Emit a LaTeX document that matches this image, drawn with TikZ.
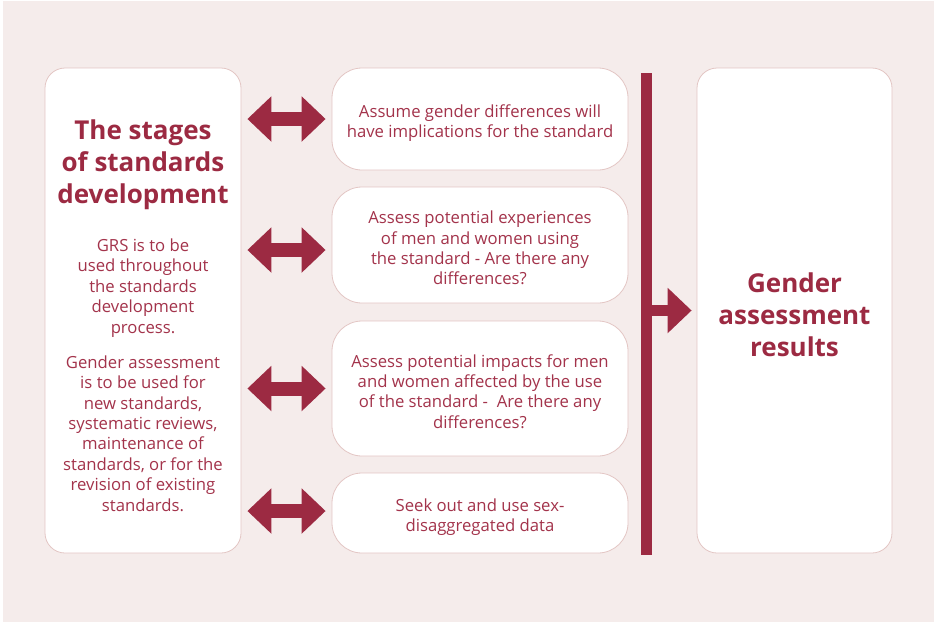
\documentclass[tikz,border=0pt]{standalone}
\usepackage{fontspec}
\setmainfont{Open Sans}
\usetikzlibrary{arrows.meta}
\definecolor{bg}{HTML}{F5ECEB}
\definecolor{edge}{HTML}{E3C6C4}
\definecolor{wine}{HTML}{9C2A42}
\definecolor{txt}{HTML}{A3334B}
\begin{document}
\begin{tikzpicture}[x=1pt,y=-1pt,
  box/.style={draw=edge, line width=0.8pt, fill=white, rounded corners=20pt, inner sep=0pt},
  midbox/.style={box, rounded corners=30pt, minimum width=296pt},
  titletext/.style={text=wine, align=center, font=\fontsize{26}{32}\selectfont\bfseries},
  bodytext/.style={text=txt, align=center, font=\fontsize{16.7}{20.4}\selectfont},
  dbl/.style={draw=wine, line width=14pt,
    {Triangle[length=24pt,width=44pt]}-{Triangle[length=24pt,width=44pt]}},
  onearrow/.style={draw=wine, line width=11pt, -{Triangle[length=24pt,width=44pt]}},
  barline/.style={draw=wine, line width=10.5pt}]
\useasboundingbox (0,0) rectangle (934,622);
\fill[white] (0,0) rectangle (934,622);
\fill[bg] (3,1) rectangle (934,622);

\node[box, minimum width=196pt, minimum height=485pt] (L) at (143,310.5) {};
\node[box, minimum width=195pt, minimum height=485pt] (R) at (794.5,310.5) {};
\node[titletext] (Rt) at (794.5,314.5) {Gender\\assessment\\results};

\node[titletext] (Lt) at (143,165) {The stages\\of standards\\development};
\node[bodytext] (Lp1) at (143,288) {GRS is to be\\used throughout\\the standards\\development\\process.};
\node[bodytext] (Lp2) at (143,433.5) {Gender assessment\\is to be used for\\new standards,\\systematic reviews,\\maintenance of\\standards, or for the\\revision of existing\\standards.};

\node[midbox, minimum height=102pt] (M1) at (480,119) {};
\node[midbox, minimum height=116pt] (M2) at (480,245) {};
\node[midbox, minimum height=135pt] (M3) at (480,388.5) {};
\node[midbox, minimum height=80pt] (M4) at (480,513) {};
\node[bodytext] (M1t) at ([yshift=-4pt]M1.center)
  {Assume gender differences will\\have implications for the standard};
\node[bodytext] (M2t) at ([yshift=-3pt]M2.center)
  {Assess potential experiences\\of men and women using\\the standard - Are there any\\differences?};
\node[bodytext] (M3t) at ([yshift=-3pt]M3.center)
  {Assess potential impacts for men\\and women affected by the use\\of the standard -~ Are there any\\differences?};
\node[bodytext] (M4t) at ([yshift=-4pt]M4.center)
  {Seek out and use sex-\\disaggregated data};

\draw[dbl] ([xshift=6pt]L.east |- M1.west) -- ([xshift=-6pt]M1.west);
\draw[dbl] ([xshift=6pt,yshift=-5pt]L.east |- M2.west) -- ([xshift=-6pt,yshift=-5pt]M2.west);
\draw[dbl] ([xshift=6pt]L.east |- M3.west) -- ([xshift=-6pt]M3.west);
\draw[dbl] ([xshift=6pt,yshift=2pt]L.east |- M4.west) -- ([xshift=-6pt,yshift=2pt]M4.west);

\coordinate (bartop) at (646.5,73);
\coordinate (barbot) at (646.5,555);
\draw[barline] (bartop) -- (barbot);
\draw[onearrow] (bartop |- R.west) -- ([xshift=-5pt]R.west);
\end{tikzpicture}
\end{document}
